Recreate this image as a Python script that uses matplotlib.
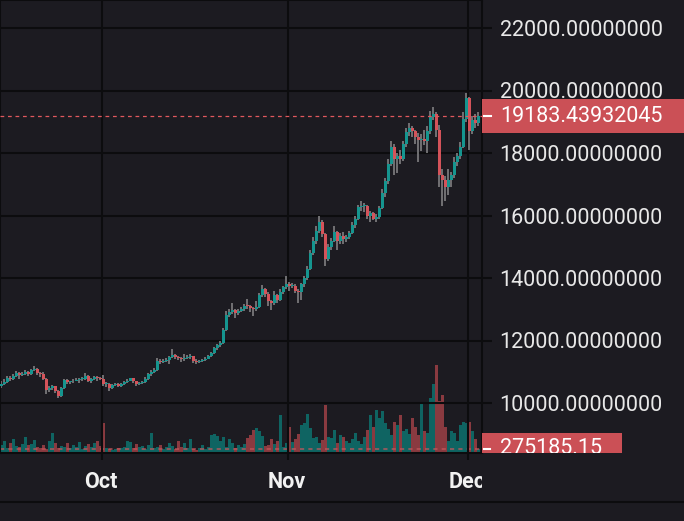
import matplotlib
matplotlib.use('Agg')
import matplotlib.pyplot as plt
import numpy as np
from matplotlib.patches import Rectangle
from matplotlib.lines import Line2D
from matplotlib.transforms import Bbox, TransformedBbox, blended_transform_factory

# 12h candles, 14 Sep 2020 -> 2 Dec 2020
first_open = 10560
closes = [
    10620, 10680, 10790, 10780, 10870, 10950, 10900, 10940, 10980, 10930,
    11050, 11080, 10960, 10920, 10780, 10420, 10480, 10530, 10380, 10240,
    10480, 10740, 10680, 10690, 10720, 10730, 10760, 10770, 10880, 10700,
    10760, 10840, 10800, 10780, 10600, 10620, 10480, 10570, 10600, 10550,
    10610, 10670, 10720, 10790, 10700, 10600, 10640, 10670, 10780, 10920,
    10990, 11060, 11350, 11300, 11360, 11380, 11460, 11540, 11480, 11430,
    11400, 11430, 11470, 11500, 11350, 11320, 11350, 11370, 11420, 11500,
    11600, 11750, 11850, 11910, 12350, 12820, 12900, 12970, 12880, 12930,
    13000, 13110, 13100, 13030, 13000, 13070, 13450, 13650, 13500, 13280,
    13200, 13460, 13300, 13560, 13700, 13800, 13750, 13760, 13600, 13550,
    13800, 14000, 14300, 14800, 15200, 15500, 15800, 15400, 14600, 15000,
    15200, 15480, 15200, 15330, 15250, 15300, 15450, 15700, 15900, 16280,
    16300, 16320, 16000, 16070, 15900, 15960, 16250, 16730, 17100, 17660,
    18200, 17800, 17900, 17820, 18300, 18660, 18800, 18700, 18500, 18420,
    18450, 18370, 18700, 19160, 19250, 18740, 17300, 17150, 16900, 17140,
    17300, 17720, 17900, 18180, 19100, 19750, 18700, 19050, 18950, 19183.44,
]
highs = [
    10700, 10760, 10880, 10850, 10920, 11020, 11000, 10990, 11060, 11040,
    11100, 11180, 11110, 11000, 10990, 10800, 10530, 10580, 10560, 10420,
    10520, 10780, 10770, 10720, 10760, 10790, 10800, 10820, 10960, 10900,
    10790, 10880, 10870, 10840, 10900, 10680, 10650, 10600, 10630, 10630,
    10640, 10700, 10760, 10810, 10800, 10720, 10670, 10700, 10820, 10950,
    11050, 11120, 11440, 11400, 11410, 11430, 11520, 11720, 11570, 11510,
    11460, 11560, 11540, 11560, 11520, 11400, 11390, 11410, 11460, 11530,
    11640, 11800, 11900, 12000, 12400, 12950, 13020, 13200, 13020, 13000,
    13060, 13160, 13330, 13150, 13080, 13250, 13520, 13790, 13680, 13540,
    13300, 13600, 13480, 13650, 13750, 14050, 13860, 13830, 13800, 13650,
    13850, 14060, 14400, 14900, 15300, 15650, 16000, 15850, 15450, 15100,
    15280, 15650, 15500, 15450, 15480, 15380, 15500, 15800, 15980, 16350,
    16480, 16400, 16350, 16150, 16100, 16050, 16300, 16850, 17200, 17800,
    18400, 18300, 18000, 18100, 18400, 18800, 18950, 18880, 18750, 18650,
    18600, 18750, 18850, 19350, 19480, 19320, 18900, 17500, 17250, 17500,
    17400, 17880, 18000, 18350, 19300, 19920, 19800, 19200, 19250, 19300,
]
lows = [
    10480, 10580, 10650, 10700, 10740, 10830, 10760, 10850, 10900, 10880,
    10900, 11020, 10900, 10820, 10740, 10300, 10360, 10420, 10330, 10150,
    10200, 10440, 10600, 10620, 10650, 10690, 10640, 10720, 10750, 10660,
    10640, 10730, 10720, 10730, 10560, 10520, 10380, 10440, 10530, 10510,
    10520, 10580, 10640, 10690, 10650, 10560, 10580, 10610, 10650, 10750,
    10880, 10950, 11040, 11250, 11270, 11320, 11260, 11430, 11400, 11380,
    11300, 11360, 11400, 11420, 11280, 11260, 11290, 11320, 11340, 11400,
    11470, 11560, 11700, 11800, 11880, 12300, 12750, 12850, 12730, 12820,
    12900, 12960, 13020, 12900, 12800, 12960, 13040, 13400, 13380, 13100,
    12990, 13150, 13200, 13250, 13500, 13650, 13600, 13680, 13520, 13200,
    13300, 13700, 13950, 14250, 14750, 15100, 15450, 15300, 14400, 14550,
    14900, 15150, 14900, 15100, 15100, 15150, 15250, 15400, 15600, 15850,
    16150, 16100, 15900, 15800, 15850, 15800, 15900, 16200, 16600, 17000,
    17600, 17300, 17350, 17650, 17750, 18200, 18550, 18500, 18300, 17700,
    18050, 18250, 18000, 18600, 19050, 18500, 16900, 16300, 16450, 16650,
    16900, 17200, 17600, 17800, 18150, 19000, 18100, 18600, 18800, 18850,
]
# volume, thousands
volumes = [
    550, 830, 340, 690, 960, 480, 410, 620, 1100, 550,
    620, 890, 410, 340, 550, 280, 830, 1380, 690, 340,
    480, 410, 690, 340, 550, 410, 760, 280, 480, 620,
    410, 690, 830, 480, 2060, 340, 280, 210, 280, 340,
    340, 410, 830, 760, 340, 620, 410, 480, 280, 550,
    1380, 340, 410, 550, 280, 410, 690, 480, 280, 830,
    410, 690, 340, 960, 280, 210, 340, 550, 280, 410,
    1240, 1310, 1170, 830, 1100, 410, 960, 690, 340, 550,
    410, 620, 1030, 1240, 1580, 1720, 1510, 1170, 480, 550,
    960, 620, 830, 2610, 410, 690, 1790, 760, 960, 1310,
    1930, 2060, 2680, 1720, 1030, 1100, 690, 890, 3300, 1100,
    1030, 1580, 690, 1240, 1100, 830, 690, 960, 1380, 830,
    620, 1100, 1580, 2610, 1790, 2960, 2410, 2890, 2060, 1650,
    1240, 2130, 1930, 2610, 1510, 1650, 1310, 2410, 1790, 1240,
    3370, 1510, 1380, 3780, 4750, 6050, 3580, 3990, 1790, 830,
    1510, 1380, 830, 1930, 2130, 2060, 2130, 1510, 960, 275.18515,
]
month_labels = ['Oct', 'Nov', 'Dec']
month_starts = [34, 96, 156]   # first candle of each month
price_ticks = [10000, 12000, 14000, 16000, 18000, 20000, 22000]
last_price = 19183.43932045
last_volume_text = '275185.15'

BG = '#1c1b21'
GRID = '#0c0c0e'
UP = '#15958f'
DOWN = '#d4535a'
WICK = '#78787a'
VOL_UP = '#0f6462'
VOL_DOWN = '#8a3a40'
LABEL_RED = '#cb5056'
TEXT = '#e8e8e8'

plt.rcParams['font.family'] = ['Roboto', 'DejaVu Sans']

W, H = 684, 521
fig = plt.figure(figsize=(W / 100, H / 100), dpi=100, facecolor=BG)
rect = [0, (H - 453) / H, 482 / W, 453 / H]

vax = fig.add_axes(rect, facecolor=BG)
ax = fig.add_axes(rect, facecolor='none', sharex=vax)

c = np.array(closes, dtype=float)
o = np.concatenate([[first_open], c[:-1]])
hi = np.array(highs, dtype=float)
lo = np.array(lows, dtype=float)
v = np.array(volumes, dtype=float)
idx = np.arange(len(c))
up = c >= o

# volume overlay
vax.bar(idx, v, width=0.92, color=np.where(up, VOL_UP, VOL_DOWN), linewidth=0)
vax.set_ylim(0, 453 * 68.8)
vax.axhline(v[-1], color='#c5575c', lw=1.2, linestyle=(0, (2.5, 2.5)), alpha=0.8)
vax.set_yticks([])
vax.tick_params(axis='x', bottom=False, labelbottom=False)
for s in vax.spines.values():
    s.set_visible(False)

# candles
ax.vlines(idx, lo, hi, color=WICK, lw=1.3, zorder=2)
ax.bar(idx, np.maximum(np.abs(c - o), 25), bottom=np.minimum(o, c), width=0.85,
       color=np.where(up, UP, DOWN), linewidth=0, zorder=3)
ax.axhline(last_price, color='#e0585d', lw=0.9, linestyle=(0, (3, 3)), zorder=4)

ax.set_xlim(-0.5, 160.17)
ax.set_ylim(8400, 22896)

ax.set_xticks(np.array(month_starts) - 0.5)
ax.set_xticklabels([])
ax.tick_params(axis='x', length=5, width=1.5, color=GRID)
ax.yaxis.tick_right()
ax.set_yticks(price_ticks)
ax.set_yticklabels(['%.8f' % p for p in price_ticks])
ax.tick_params(axis='y', length=7.2, width=1.5, color=GRID, pad=5.5,
               labelsize=15.5, labelcolor=TEXT)
ax.grid(True, color=GRID, lw=1.5)
ax.set_axisbelow(True)
for s in ax.spines.values():
    s.set_color(GRID)
    s.set_linewidth(1.5)

# month labels clipped at price scale
clip = TransformedBbox(Bbox([[0, 0], [482 / W, 1]]), fig.transFigure)
trans = blended_transform_factory(ax.transData, fig.transFigure)
for lab, pos in zip(month_labels, month_starts):
    t = ax.text(pos - 0.8, (H - 482) / H, lab, transform=trans, ha='center',
                va='center', fontsize=15.5, fontweight='bold', color='#f2f2f2',
                clip_on=True)
    t.set_clip_box(clip)

fig.add_artist(Line2D([0, 1], [(H - 502) / H] * 2, color=GRID, lw=1.5))

# last price label
fig.add_artist(Rectangle((482 / W, (H - 133) / H), 202 / W, 34 / H,
                         transform=fig.transFigure, color=LABEL_RED, lw=0))
fig.add_artist(Line2D([484 / W, 491 / W], [(H - 116) / H] * 2, color='white', lw=1.5))
fig.text(500 / W, (H - 116) / H, '%.8f' % last_price, ha='left', va='center',
         fontsize=15.5, color='white')

# last volume label (cut by pane bottom)
fig.add_artist(Rectangle((482 / W, (H - 453) / H), 140 / W, 20 / H,
                         transform=fig.transFigure, color=LABEL_RED, lw=0))
fig.add_artist(Line2D([484 / W, 490 / W], [(H - 449) / H] * 2, color='white', lw=1.5))
vt = fig.text(500 / W, (H - 449) / H, last_volume_text, ha='left', va='center',
              fontsize=15.5, color='white', clip_on=True)
vt.set_clip_box(TransformedBbox(Bbox([[0, (H - 453) / H], [1, 1]]), fig.transFigure))

fig.savefig('out.png', dpi=100, facecolor=BG)
